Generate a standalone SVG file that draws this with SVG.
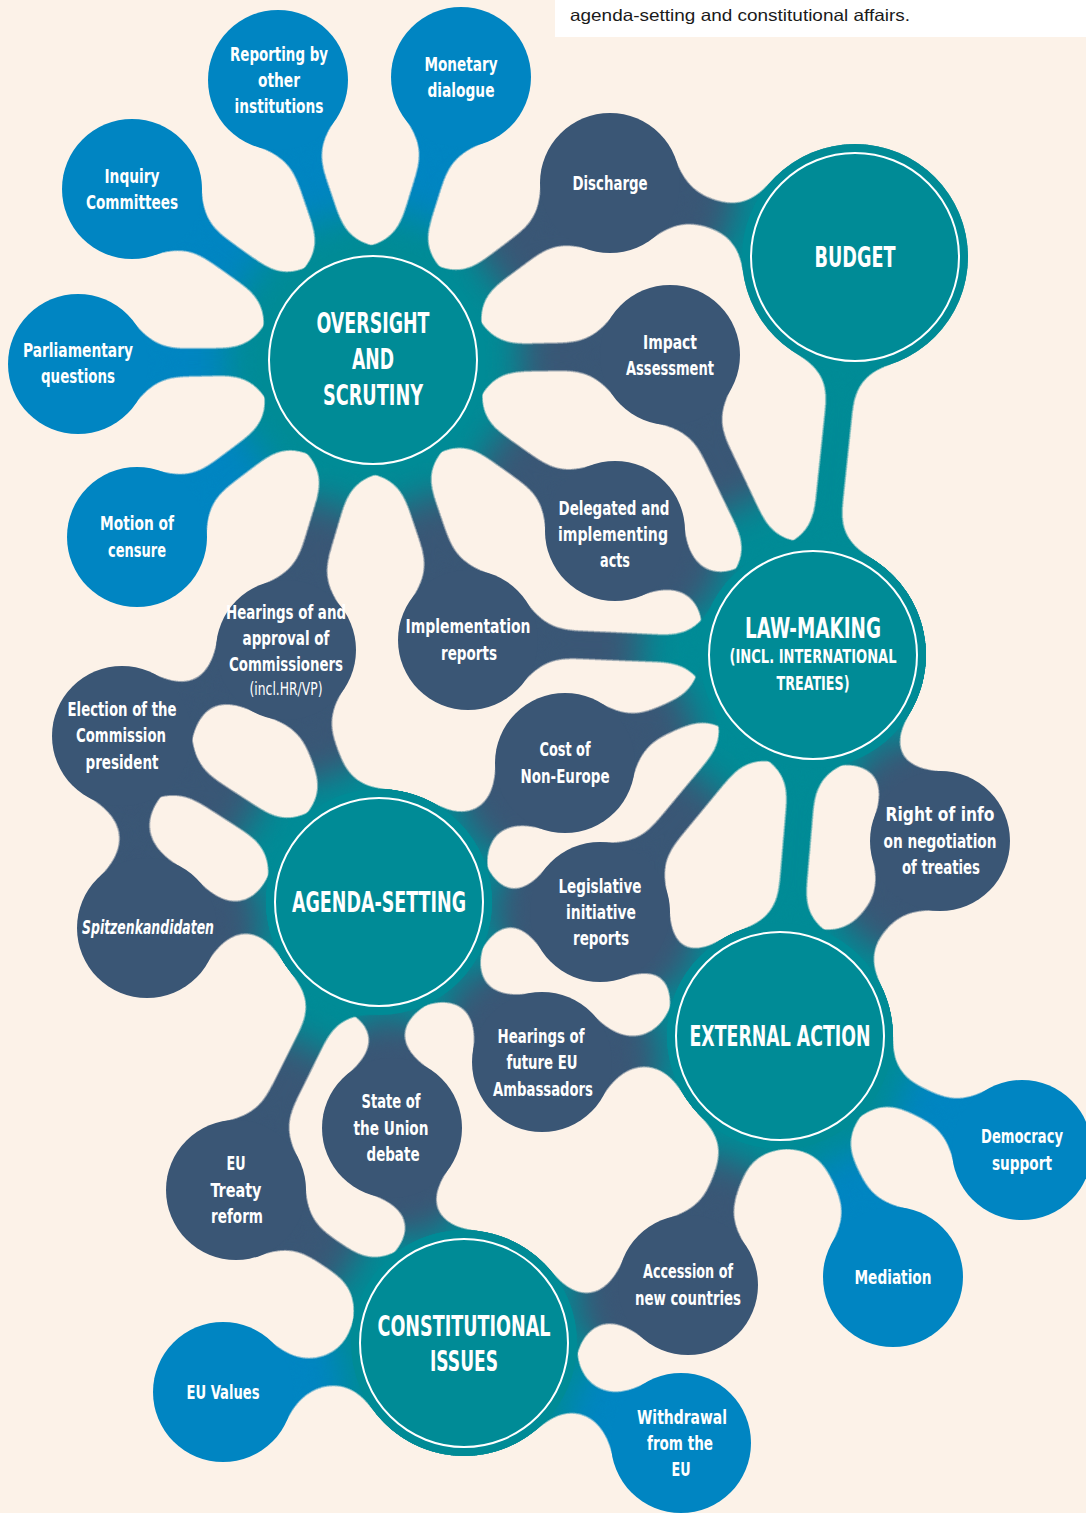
<svg xmlns="http://www.w3.org/2000/svg" width="1086" height="1513" viewBox="0 0 1086 1513">
<defs>
<style>
.bg{fill:#FCF2E8}
.hub{fill:#008B96}
.ring{fill:none;stroke:#FFFFFF;stroke-width:2}
.sb{fill:#0085C2}
.ss{fill:#3A5675}
.nt{stroke:#008B96;stroke-width:30;fill:none}
.nb{stroke:#0085C2;stroke-width:30;fill:none}
.ns{stroke:#3A5675;stroke-width:30;fill:none}
.conn{filter:url(#goo)}
text{font-family:"Liberation Sans Narrow","DejaVu Sans Condensed","Liberation Sans",sans-serif;fill:#FFFFFF;text-anchor:middle}
.l{font-size:19px;font-weight:bold}
.h{font-size:29px;font-weight:bold}
.hs{font-size:20px;font-weight:bold}
.sm{font-size:17px;font-weight:normal}
.note{font-family:"Liberation Sans","DejaVu Sans",sans-serif;font-size:16.5px;fill:#1A1A1A;text-anchor:start}
</style>
<filter id="goo" x="-0.3" y="-0.3" width="1.6" height="1.6" color-interpolation-filters="sRGB">
<feGaussianBlur in="SourceGraphic" stdDeviation="18"/>
<feColorMatrix type="matrix" values="1 0 0 0 0  0 1 0 0 0  0 0 1 0 0  0 0 0 26 -12"/>
</filter>
</defs>
<rect class="bg" x="0" y="0" width="1086" height="1513"/>
<g id="note">
<rect x="555" y="0" width="531" height="37" fill="#FFFFFF"/>
<text class="note" x="570" y="21" textLength="340" lengthAdjust="spacingAndGlyphs">agenda-setting and constitutional affairs.</text>
</g>

<g id="connectors">
<g class="conn"><line class="nt" x1="278" y1="80" x2="373" y2="360"/><line class="nb" x1="278" y1="80" x2="325.5" y2="220"/><circle class="sb" cx="278" cy="80" r="70"/><circle class="hub" cx="373" cy="360" r="113"/></g>
<g class="conn"><line class="nt" x1="461" y1="77" x2="373" y2="360"/><line class="nb" x1="461" y1="77" x2="417" y2="218.5"/><circle class="sb" cx="461" cy="77" r="70"/><circle class="hub" cx="373" cy="360" r="113"/></g>
<g class="conn"><line class="nt" x1="132" y1="189" x2="373" y2="360"/><line class="nb" x1="132" y1="189" x2="252.5" y2="274.5"/><circle class="sb" cx="132" cy="189" r="70"/><circle class="hub" cx="373" cy="360" r="113"/></g>
<g class="conn"><line class="nt" x1="78" y1="364" x2="373" y2="360"/><line class="nb" x1="78" y1="364" x2="225.5" y2="362"/><circle class="sb" cx="78" cy="364" r="70"/><circle class="hub" cx="373" cy="360" r="113"/></g>
<g class="conn"><line class="nt" x1="137" y1="537" x2="373" y2="360"/><line class="nb" x1="137" y1="537" x2="255" y2="448.5"/><circle class="sb" cx="137" cy="537" r="70"/><circle class="hub" cx="373" cy="360" r="113"/></g>
<g class="conn"><line class="nt" x1="610" y1="183" x2="373" y2="360"/><line class="ns" x1="610" y1="183" x2="491.5" y2="271.5"/><circle class="ss" cx="610" cy="183" r="70"/><circle class="hub" cx="373" cy="360" r="113"/></g>
<g class="conn"><line class="nt" x1="670" y1="355" x2="373" y2="360"/><line class="ns" x1="670" y1="355" x2="521.5" y2="357.5"/><circle class="ss" cx="670" cy="355" r="70"/><circle class="hub" cx="373" cy="360" r="113"/></g>
<g class="conn"><line class="nt" x1="615" y1="531" x2="373" y2="360"/><line class="ns" x1="615" y1="531" x2="494" y2="445.5"/><circle class="ss" cx="615" cy="531" r="70"/><circle class="hub" cx="373" cy="360" r="113"/></g>
<g class="conn"><line class="nt" x1="286" y1="650" x2="373" y2="360"/><line class="ns" x1="286" y1="650" x2="329.5" y2="505"/><circle class="ss" cx="286" cy="650" r="70"/><circle class="hub" cx="373" cy="360" r="113"/></g>
<g class="conn"><line class="nt" x1="468" y1="640" x2="373" y2="360"/><line class="ns" x1="468" y1="640" x2="420.5" y2="500"/><circle class="ss" cx="468" cy="640" r="70"/><circle class="hub" cx="373" cy="360" r="113"/></g>
<g class="conn"><line class="nt" x1="610" y1="183" x2="855" y2="257"/><line class="ns" x1="610" y1="183" x2="732.5" y2="220"/><circle class="ss" cx="610" cy="183" r="70"/><circle class="hub" cx="855" cy="257" r="113"/></g>
<g class="conn"><line class="nt" x1="670" y1="355" x2="813" y2="655"/><line class="ns" x1="670" y1="355" x2="741.5" y2="505"/><circle class="ss" cx="670" cy="355" r="70"/><circle class="hub" cx="813" cy="655" r="113"/></g>
<g class="conn"><line class="nt" x1="615" y1="531" x2="813" y2="655"/><line class="ns" x1="615" y1="531" x2="714" y2="593"/><circle class="ss" cx="615" cy="531" r="70"/><circle class="hub" cx="813" cy="655" r="113"/></g>
<g class="conn"><line class="nt" x1="468" y1="640" x2="813" y2="655"/><line class="ns" x1="468" y1="640" x2="640.5" y2="647.5"/><circle class="ss" cx="468" cy="640" r="70"/><circle class="hub" cx="813" cy="655" r="113"/></g>
<g class="conn"><line class="nt" x1="565" y1="763" x2="813" y2="655"/><line class="ns" x1="565" y1="763" x2="689" y2="709"/><circle class="ss" cx="565" cy="763" r="70"/><circle class="hub" cx="813" cy="655" r="113"/></g>
<g class="conn"><line class="nt" x1="600" y1="912" x2="813" y2="655"/><line class="ns" x1="600" y1="912" x2="706.5" y2="783.5"/><circle class="ss" cx="600" cy="912" r="70"/><circle class="hub" cx="813" cy="655" r="113"/></g>
<g class="conn"><line class="nt" x1="940" y1="841" x2="813" y2="655"/><line class="ns" x1="940" y1="841" x2="876.5" y2="748"/><circle class="ss" cx="940" cy="841" r="70"/><circle class="hub" cx="813" cy="655" r="113"/></g>
<g class="conn"><line class="nt" x1="286" y1="650" x2="379" y2="902"/><line class="ns" x1="286" y1="650" x2="332.5" y2="776"/><circle class="ss" cx="286" cy="650" r="70"/><circle class="hub" cx="379" cy="902" r="113"/></g>
<g class="conn"><line class="nt" x1="122" y1="736" x2="379" y2="902"/><line class="ns" x1="122" y1="736" x2="250.5" y2="819"/><circle class="ss" cx="122" cy="736" r="70"/><circle class="hub" cx="379" cy="902" r="113"/></g>
<g class="conn"><line class="nt" x1="147" y1="928" x2="379" y2="902"/><line class="ns" x1="147" y1="928" x2="263" y2="915"/><circle class="ss" cx="147" cy="928" r="70"/><circle class="hub" cx="379" cy="902" r="113"/></g>
<g class="conn"><line class="nt" x1="565" y1="763" x2="379" y2="902"/><line class="ns" x1="565" y1="763" x2="472" y2="832.5"/><circle class="ss" cx="565" cy="763" r="70"/><circle class="hub" cx="379" cy="902" r="113"/></g>
<g class="conn"><line class="nt" x1="600" y1="912" x2="379" y2="902"/><line class="ns" x1="600" y1="912" x2="489.5" y2="907"/><circle class="ss" cx="600" cy="912" r="70"/><circle class="hub" cx="379" cy="902" r="113"/></g>
<g class="conn"><line class="nt" x1="542" y1="1062" x2="379" y2="902"/><line class="ns" x1="542" y1="1062" x2="460.5" y2="982"/><circle class="ss" cx="542" cy="1062" r="70"/><circle class="hub" cx="379" cy="902" r="113"/></g>
<g class="conn"><line class="nt" x1="392" y1="1128" x2="379" y2="902"/><line class="ns" x1="392" y1="1128" x2="385.5" y2="1015"/><circle class="ss" cx="392" cy="1128" r="70"/><circle class="hub" cx="379" cy="902" r="113"/></g>
<g class="conn"><line class="nt" x1="236" y1="1190" x2="379" y2="902"/><line class="ns" x1="236" y1="1190" x2="307.5" y2="1046"/><circle class="ss" cx="236" cy="1190" r="70"/><circle class="hub" cx="379" cy="902" r="113"/></g>
<g class="conn"><line class="nt" x1="600" y1="912" x2="780" y2="1036"/><line class="ns" x1="600" y1="912" x2="690" y2="974"/><circle class="ss" cx="600" cy="912" r="70"/><circle class="hub" cx="780" cy="1036" r="113"/></g>
<g class="conn"><line class="nt" x1="940" y1="841" x2="780" y2="1036"/><line class="ns" x1="940" y1="841" x2="860" y2="938.5"/><circle class="ss" cx="940" cy="841" r="70"/><circle class="hub" cx="780" cy="1036" r="113"/></g>
<g class="conn"><line class="nt" x1="542" y1="1062" x2="780" y2="1036"/><line class="ns" x1="542" y1="1062" x2="661" y2="1049"/><circle class="ss" cx="542" cy="1062" r="70"/><circle class="hub" cx="780" cy="1036" r="113"/></g>
<g class="conn"><line class="nt" x1="688" y1="1285" x2="780" y2="1036"/><line class="ns" x1="688" y1="1285" x2="734" y2="1160.5"/><circle class="ss" cx="688" cy="1285" r="70"/><circle class="hub" cx="780" cy="1036" r="113"/></g>
<g class="conn"><line class="nt" x1="1022" y1="1150" x2="780" y2="1036"/><line class="nb" x1="1022" y1="1150" x2="901" y2="1093"/><circle class="sb" cx="1022" cy="1150" r="70"/><circle class="hub" cx="780" cy="1036" r="113"/></g>
<g class="conn"><line class="nt" x1="893" y1="1277" x2="780" y2="1036"/><line class="nb" x1="893" y1="1277" x2="836.5" y2="1156.5"/><circle class="sb" cx="893" cy="1277" r="70"/><circle class="hub" cx="780" cy="1036" r="113"/></g>
<g class="conn"><line class="nt" x1="392" y1="1128" x2="464" y2="1343"/><line class="ns" x1="392" y1="1128" x2="428" y2="1235.5"/><circle class="ss" cx="392" cy="1128" r="70"/><circle class="hub" cx="464" cy="1343" r="113"/></g>
<g class="conn"><line class="nt" x1="236" y1="1190" x2="464" y2="1343"/><line class="ns" x1="236" y1="1190" x2="350" y2="1266.5"/><circle class="ss" cx="236" cy="1190" r="70"/><circle class="hub" cx="464" cy="1343" r="113"/></g>
<g class="conn"><line class="nt" x1="688" y1="1285" x2="464" y2="1343"/><line class="ns" x1="688" y1="1285" x2="576" y2="1314"/><circle class="ss" cx="688" cy="1285" r="70"/><circle class="hub" cx="464" cy="1343" r="113"/></g>
<g class="conn"><line class="nt" x1="681" y1="1443" x2="464" y2="1343"/><line class="nb" x1="681" y1="1443" x2="572.5" y2="1393"/><circle class="sb" cx="681" cy="1443" r="70"/><circle class="hub" cx="464" cy="1343" r="113"/></g>
<g class="conn"><line class="nt" x1="223" y1="1392" x2="464" y2="1343"/><line class="nb" x1="223" y1="1392" x2="343.5" y2="1367.5"/><circle class="sb" cx="223" cy="1392" r="70"/><circle class="hub" cx="464" cy="1343" r="113"/></g>
<g class="conn"><line class="nt" x1="855" y1="257" x2="813" y2="655"/><circle class="hub" cx="855" cy="257" r="113"/><circle class="hub" cx="813" cy="655" r="113"/></g>
<g class="conn"><line class="nt" x1="813" y1="655" x2="780" y2="1036"/><circle class="hub" cx="813" cy="655" r="113"/><circle class="hub" cx="780" cy="1036" r="113"/></g>
<g class="conn"><line class="ns" x1="122" y1="736" x2="286" y2="650"/><circle class="ss" cx="122" cy="736" r="70"/><circle class="ss" cx="286" cy="650" r="70"/></g>
<g class="conn"><line class="ns" x1="122" y1="736" x2="147" y2="928"/><circle class="ss" cx="122" cy="736" r="70"/><circle class="ss" cx="147" cy="928" r="70"/></g>
</g>

<g id="hub-oversight"><circle class="hub" cx="373" cy="360" r="113"/><circle class="ring" cx="373" cy="360" r="104"/>
<text class="h"><tspan x="373" y="333" textLength="113" lengthAdjust="spacingAndGlyphs">OVERSIGHT</tspan><tspan x="373" y="369" textLength="42" lengthAdjust="spacingAndGlyphs">AND</tspan><tspan x="373" y="405" textLength="100" lengthAdjust="spacingAndGlyphs">SCRUTINY</tspan></text></g>
<g id="hub-budget"><circle class="hub" cx="855" cy="257" r="113"/><circle class="ring" cx="855" cy="257" r="104"/>
<text class="h" x="855" y="267" textLength="81" lengthAdjust="spacingAndGlyphs">BUDGET</text></g>
<g id="hub-lawmaking"><circle class="hub" cx="813" cy="655" r="113"/><circle class="ring" cx="813" cy="655" r="104"/>
<text class="h" x="813" y="638" textLength="136" lengthAdjust="spacingAndGlyphs">LAW-MAKING</text>
<text class="hs"><tspan x="813" y="663" textLength="167" lengthAdjust="spacingAndGlyphs">(INCL. INTERNATIONAL</tspan><tspan x="813" y="690" textLength="73" lengthAdjust="spacingAndGlyphs">TREATIES)</tspan></text></g>
<g id="hub-agenda"><circle class="hub" cx="379" cy="902" r="113"/><circle class="ring" cx="379" cy="902" r="104"/>
<text class="h" x="379" y="912" textLength="174" lengthAdjust="spacingAndGlyphs">AGENDA-SETTING</text></g>
<g id="hub-external"><circle class="hub" cx="780" cy="1036" r="113"/><circle class="ring" cx="780" cy="1036" r="104"/>
<text class="h" x="780" y="1046" textLength="181" lengthAdjust="spacingAndGlyphs">EXTERNAL ACTION</text></g>
<g id="hub-constitutional"><circle class="hub" cx="464" cy="1343" r="113"/><circle class="ring" cx="464" cy="1343" r="104"/>
<text class="h"><tspan x="464" y="1336" textLength="173" lengthAdjust="spacingAndGlyphs">CONSTITUTIONAL</tspan><tspan x="464" y="1371" textLength="68" lengthAdjust="spacingAndGlyphs">ISSUES</tspan></text></g>

<g id="n-reporting"><circle class="sb" cx="278" cy="80" r="70"/><text class="l"><tspan x="279" y="61" textLength="98" lengthAdjust="spacingAndGlyphs">Reporting by</tspan><tspan x="279" y="87" textLength="42" lengthAdjust="spacingAndGlyphs">other</tspan><tspan x="279" y="113" textLength="89" lengthAdjust="spacingAndGlyphs">institutions</tspan></text></g>
<g id="n-monetary"><circle class="sb" cx="461" cy="77" r="70"/><text class="l"><tspan x="461" y="71" textLength="73" lengthAdjust="spacingAndGlyphs">Monetary</tspan><tspan x="461" y="97" textLength="67" lengthAdjust="spacingAndGlyphs">dialogue</tspan></text></g>
<g id="n-inquiry"><circle class="sb" cx="132" cy="189" r="70"/><text class="l"><tspan x="132" y="183" textLength="55" lengthAdjust="spacingAndGlyphs">Inquiry</tspan><tspan x="132" y="209" textLength="92" lengthAdjust="spacingAndGlyphs">Committees</tspan></text></g>
<g id="n-questions"><circle class="sb" cx="78" cy="364" r="70"/><text class="l"><tspan x="78" y="357" textLength="110" lengthAdjust="spacingAndGlyphs">Parliamentary</tspan><tspan x="78" y="383" textLength="74" lengthAdjust="spacingAndGlyphs">questions</tspan></text></g>
<g id="n-censure"><circle class="sb" cx="137" cy="537" r="70"/><text class="l"><tspan x="137" y="530" textLength="74" lengthAdjust="spacingAndGlyphs">Motion of</tspan><tspan x="137" y="557" textLength="58" lengthAdjust="spacingAndGlyphs">censure</tspan></text></g>
<g id="n-discharge"><circle class="ss" cx="610" cy="183" r="70"/><text class="l" x="610" y="190" textLength="75" lengthAdjust="spacingAndGlyphs">Discharge</text></g>
<g id="n-impact"><circle class="ss" cx="670" cy="355" r="70"/><text class="l"><tspan x="670" y="349" textLength="54" lengthAdjust="spacingAndGlyphs">Impact</tspan><tspan x="670" y="375" textLength="88" lengthAdjust="spacingAndGlyphs">Assessment</tspan></text></g>
<g id="n-delegated"><circle class="ss" cx="615" cy="531" r="70"/><text class="l"><tspan x="614" y="515" textLength="111" lengthAdjust="spacingAndGlyphs">Delegated and</tspan><tspan x="613" y="541" textLength="110" lengthAdjust="spacingAndGlyphs">implementing</tspan><tspan x="615" y="567" textLength="30" lengthAdjust="spacingAndGlyphs">acts</tspan></text></g>
<g id="n-hearings-comm"><circle class="ss" cx="286" cy="650" r="70"/><text class="l"><tspan x="286" y="619" textLength="120" lengthAdjust="spacingAndGlyphs">Hearings of and</tspan><tspan x="286" y="645" textLength="87" lengthAdjust="spacingAndGlyphs">approval of</tspan><tspan x="286" y="671" textLength="114" lengthAdjust="spacingAndGlyphs">Commissioners</tspan></text><text class="sm" x="286" y="695" textLength="73" lengthAdjust="spacingAndGlyphs">(incl.HR/VP)</text></g>
<g id="n-implementation"><circle class="ss" cx="468" cy="640" r="70"/><text class="l"><tspan x="468" y="633" textLength="125" lengthAdjust="spacingAndGlyphs">Implementation</tspan><tspan x="469" y="660" textLength="56" lengthAdjust="spacingAndGlyphs">reports</tspan></text></g>
<g id="n-election"><circle class="ss" cx="122" cy="736" r="70"/><text class="l"><tspan x="122" y="716" textLength="109" lengthAdjust="spacingAndGlyphs">Election of the</tspan><tspan x="121" y="742" textLength="90" lengthAdjust="spacingAndGlyphs">Commission</tspan><tspan x="122" y="769" textLength="73" lengthAdjust="spacingAndGlyphs">president</tspan></text></g>
<g id="n-cost"><circle class="ss" cx="565" cy="763" r="70"/><text class="l"><tspan x="565" y="756" textLength="51" lengthAdjust="spacingAndGlyphs">Cost of</tspan><tspan x="565" y="783" textLength="89" lengthAdjust="spacingAndGlyphs">Non-Europe</tspan></text></g>
<g id="n-rightinfo"><circle class="ss" cx="940" cy="841" r="70"/><text class="l"><tspan x="940" y="821" textLength="109" lengthAdjust="spacingAndGlyphs">Right of info</tspan><tspan x="940" y="848" textLength="113" lengthAdjust="spacingAndGlyphs">on negotiation</tspan><tspan x="941" y="874" textLength="78" lengthAdjust="spacingAndGlyphs">of treaties</tspan></text></g>
<g id="n-spitzen"><circle class="ss" cx="147" cy="928" r="70"/><text class="l" x="148" y="934" font-style="italic" textLength="132" lengthAdjust="spacingAndGlyphs">Spitzenkandidaten</text></g>
<g id="n-legislative"><circle class="ss" cx="600" cy="912" r="70"/><text class="l"><tspan x="600" y="893" textLength="83" lengthAdjust="spacingAndGlyphs">Legislative</tspan><tspan x="601" y="919" textLength="70" lengthAdjust="spacingAndGlyphs">initiative</tspan><tspan x="601" y="945" textLength="56" lengthAdjust="spacingAndGlyphs">reports</tspan></text></g>
<g id="n-hearings-amb"><circle class="ss" cx="542" cy="1062" r="70"/><text class="l"><tspan x="541" y="1043" textLength="87" lengthAdjust="spacingAndGlyphs">Hearings of</tspan><tspan x="542" y="1069" textLength="71" lengthAdjust="spacingAndGlyphs">future EU</tspan><tspan x="543" y="1096" textLength="100" lengthAdjust="spacingAndGlyphs">Ambassadors</tspan></text></g>
<g id="n-state"><circle class="ss" cx="392" cy="1128" r="70"/><text class="l"><tspan x="391" y="1108" textLength="59" lengthAdjust="spacingAndGlyphs">State of</tspan><tspan x="391" y="1135" textLength="75" lengthAdjust="spacingAndGlyphs">the Union</tspan><tspan x="393" y="1161" textLength="53" lengthAdjust="spacingAndGlyphs">debate</tspan></text></g>
<g id="n-treaty"><circle class="ss" cx="236" cy="1190" r="70"/><text class="l"><tspan x="236" y="1170" textLength="19" lengthAdjust="spacingAndGlyphs">EU</tspan><tspan x="236" y="1197" textLength="51" lengthAdjust="spacingAndGlyphs">Treaty</tspan><tspan x="237" y="1223" textLength="52" lengthAdjust="spacingAndGlyphs">reform</tspan></text></g>
<g id="n-accession"><circle class="ss" cx="688" cy="1285" r="70"/><text class="l"><tspan x="688" y="1278" textLength="90" lengthAdjust="spacingAndGlyphs">Accession of</tspan><tspan x="688" y="1305" textLength="106" lengthAdjust="spacingAndGlyphs">new countries</tspan></text></g>
<g id="n-democracy"><circle class="sb" cx="1022" cy="1150" r="70"/><text class="l"><tspan x="1022" y="1143" textLength="82" lengthAdjust="spacingAndGlyphs">Democracy</tspan><tspan x="1022" y="1170" textLength="60" lengthAdjust="spacingAndGlyphs">support</tspan></text></g>
<g id="n-mediation"><circle class="sb" cx="893" cy="1277" r="70"/><text class="l" x="893" y="1284" textLength="77" lengthAdjust="spacingAndGlyphs">Mediation</text></g>
<g id="n-values"><circle class="sb" cx="223" cy="1392" r="70"/><text class="l" x="223" y="1399" textLength="73" lengthAdjust="spacingAndGlyphs">EU Values</text></g>
<g id="n-withdrawal"><circle class="sb" cx="681" cy="1443" r="70"/><text class="l"><tspan x="682" y="1424" textLength="90" lengthAdjust="spacingAndGlyphs">Withdrawal</tspan><tspan x="680" y="1450" textLength="66" lengthAdjust="spacingAndGlyphs">from the</tspan><tspan x="681" y="1476" textLength="19" lengthAdjust="spacingAndGlyphs">EU</tspan></text></g>
</svg>
